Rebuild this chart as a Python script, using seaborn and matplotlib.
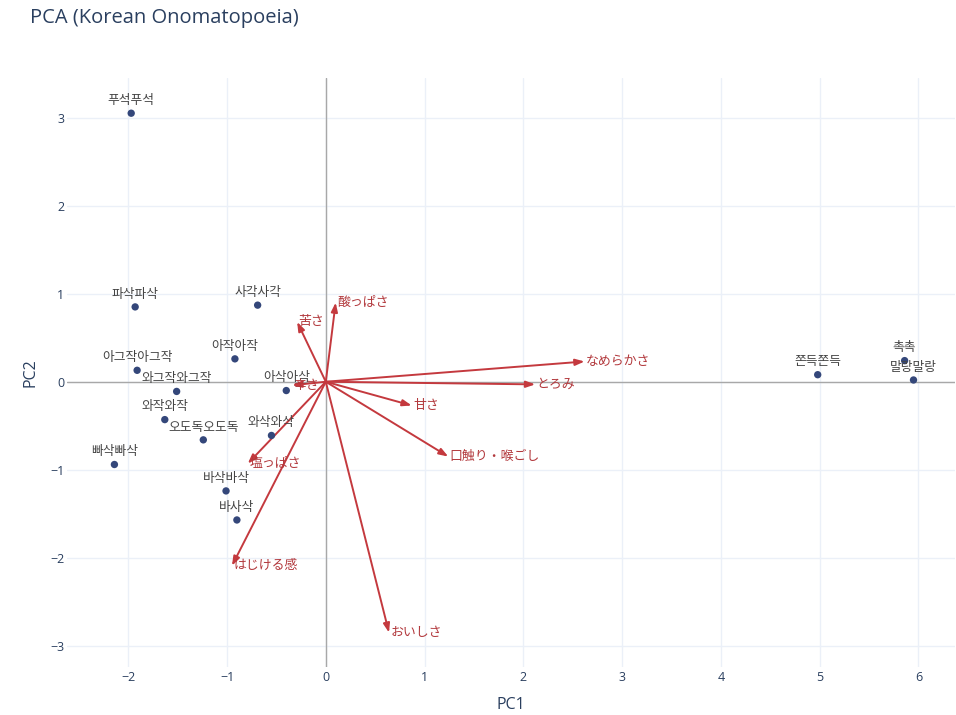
import matplotlib
matplotlib.use("Agg")
import matplotlib.pyplot as plt
import seaborn as sns
import pandas as pd

# Sample scores on the first two principal components
words = ["푸석푸석", "파삭파삭", "사각사각", "아작아작", "아그작아그작", "와그작와그작",
         "아삭아삭", "와작와작", "오도독오도독", "와삭와삭", "빠삭빠삭", "바삭바삭",
         "바사삭", "쫀득쫀득", "촉촉", "말랑말랑"]
pc1 = [-1.97, -1.93, -0.69, -0.92, -1.91, -1.51, -0.40, -1.63, -1.24, -0.55,
       -2.14, -1.01, -0.90, 4.98, 5.86, 5.95]
pc2 = [3.05, 0.85, 0.87, 0.26, 0.13, -0.11, -0.10, -0.43, -0.66, -0.61,
       -0.94, -1.24, -1.57, 0.08, 0.24, 0.02]

# Attribute loadings (scaled)
attributes = ["酸っぱさ", "苦さ", "辛さ", "塩っぱさ", "はじける感", "おいしさ",
              "口触り・喉ごし", "甘さ", "とろみ", "なめらかさ"]
load1 = [0.10, -0.29, -0.34, -0.79, -0.95, 0.64, 1.24, 0.87, 2.12, 2.62]
load2 = [0.90, 0.68, -0.04, -0.93, -2.09, -2.85, -0.85, -0.27, -0.03, 0.23]

x_ticks = [-2, -1, 0, 1, 2, 3, 4, 5, 6]
y_ticks = [-3, -2, -1, 0, 1, 2, 3]

scores = pd.DataFrame({"word": words, "PC1": pc1, "PC2": pc2})

sns.set_theme(style="white")
plt.rcParams["font.family"] = ["Open Sans", "Noto Sans CJK KR", "DejaVu Sans"]

TEXT = "#2a3f5f"
GRID = "#ebf0f8"
ARROW = "#c4393e"

fig = plt.figure(figsize=(9.56, 7.15), dpi=100)
ax = fig.add_axes([67 / 956, 1 - 667 / 715, (955 - 67) / 956, (667 - 78) / 715])

ax.set_xlim(-2.62, 6.37)
ax.set_ylim(-3.24, 3.45)
ax.set_xticks(x_ticks)
ax.set_yticks(y_ticks)
ax.set_xticklabels([str(t).replace("-", "\u2212") for t in x_ticks])
ax.set_yticklabels([str(t).replace("-", "\u2212") for t in y_ticks])
ax.grid(True, color=GRID, lw=1)
ax.set_axisbelow(True)
for s in ax.spines.values():
    s.set_visible(False)
ax.tick_params(axis="both", length=0, labelsize=9, labelcolor=TEXT)
ax.tick_params(axis="x", pad=3)
ax.tick_params(axis="y", pad=2)

# Zero lines
ax.axhline(0, color="#a8a8a8", lw=1, zorder=1)
ax.axvline(0, color="#a8a8a8", lw=1, zorder=1)

# Loading arrows
for name, lx, ly in zip(attributes, load1, load2):
    ax.annotate("", xy=(lx, ly), xytext=(0, 0),
                arrowprops=dict(arrowstyle="-|>,head_length=0.45,head_width=0.16",
                                color=ARROW, lw=1.4, shrinkA=0, shrinkB=0),
                zorder=3)
    ax.annotate(name, xy=(lx, ly), xytext=(1, 0), textcoords="offset points",
                ha="left", va="center", fontsize=9.3, color="#b2383c",
                family=["Noto Sans CJK JP", "DejaVu Sans"], zorder=4)

# Sample points
sns.scatterplot(data=scores, x="PC1", y="PC2", ax=ax, color="#34477a",
                s=28, edgecolor="none", zorder=5, legend=False)
for w, x, y in zip(words, pc1, pc2):
    ax.annotate(w, xy=(x, y), xytext=(0, 4.5), textcoords="offset points",
                ha="center", va="bottom", fontsize=9.2, color="#444444",
                family=["Noto Sans CJK KR", "DejaVu Sans"], zorder=6)

ax.set_xlabel("PC1", fontsize=11.5, color=TEXT, labelpad=9)
ax.set_ylabel("PC2", fontsize=11.5, color=TEXT, labelpad=8)

fig.text(30 / 956, 1 - 18 / 715, "PCA (Korean Onomatopoeia)", fontsize=14.5,
         color=TEXT, ha="left", va="center")

fig.savefig("out.png", dpi=100)
